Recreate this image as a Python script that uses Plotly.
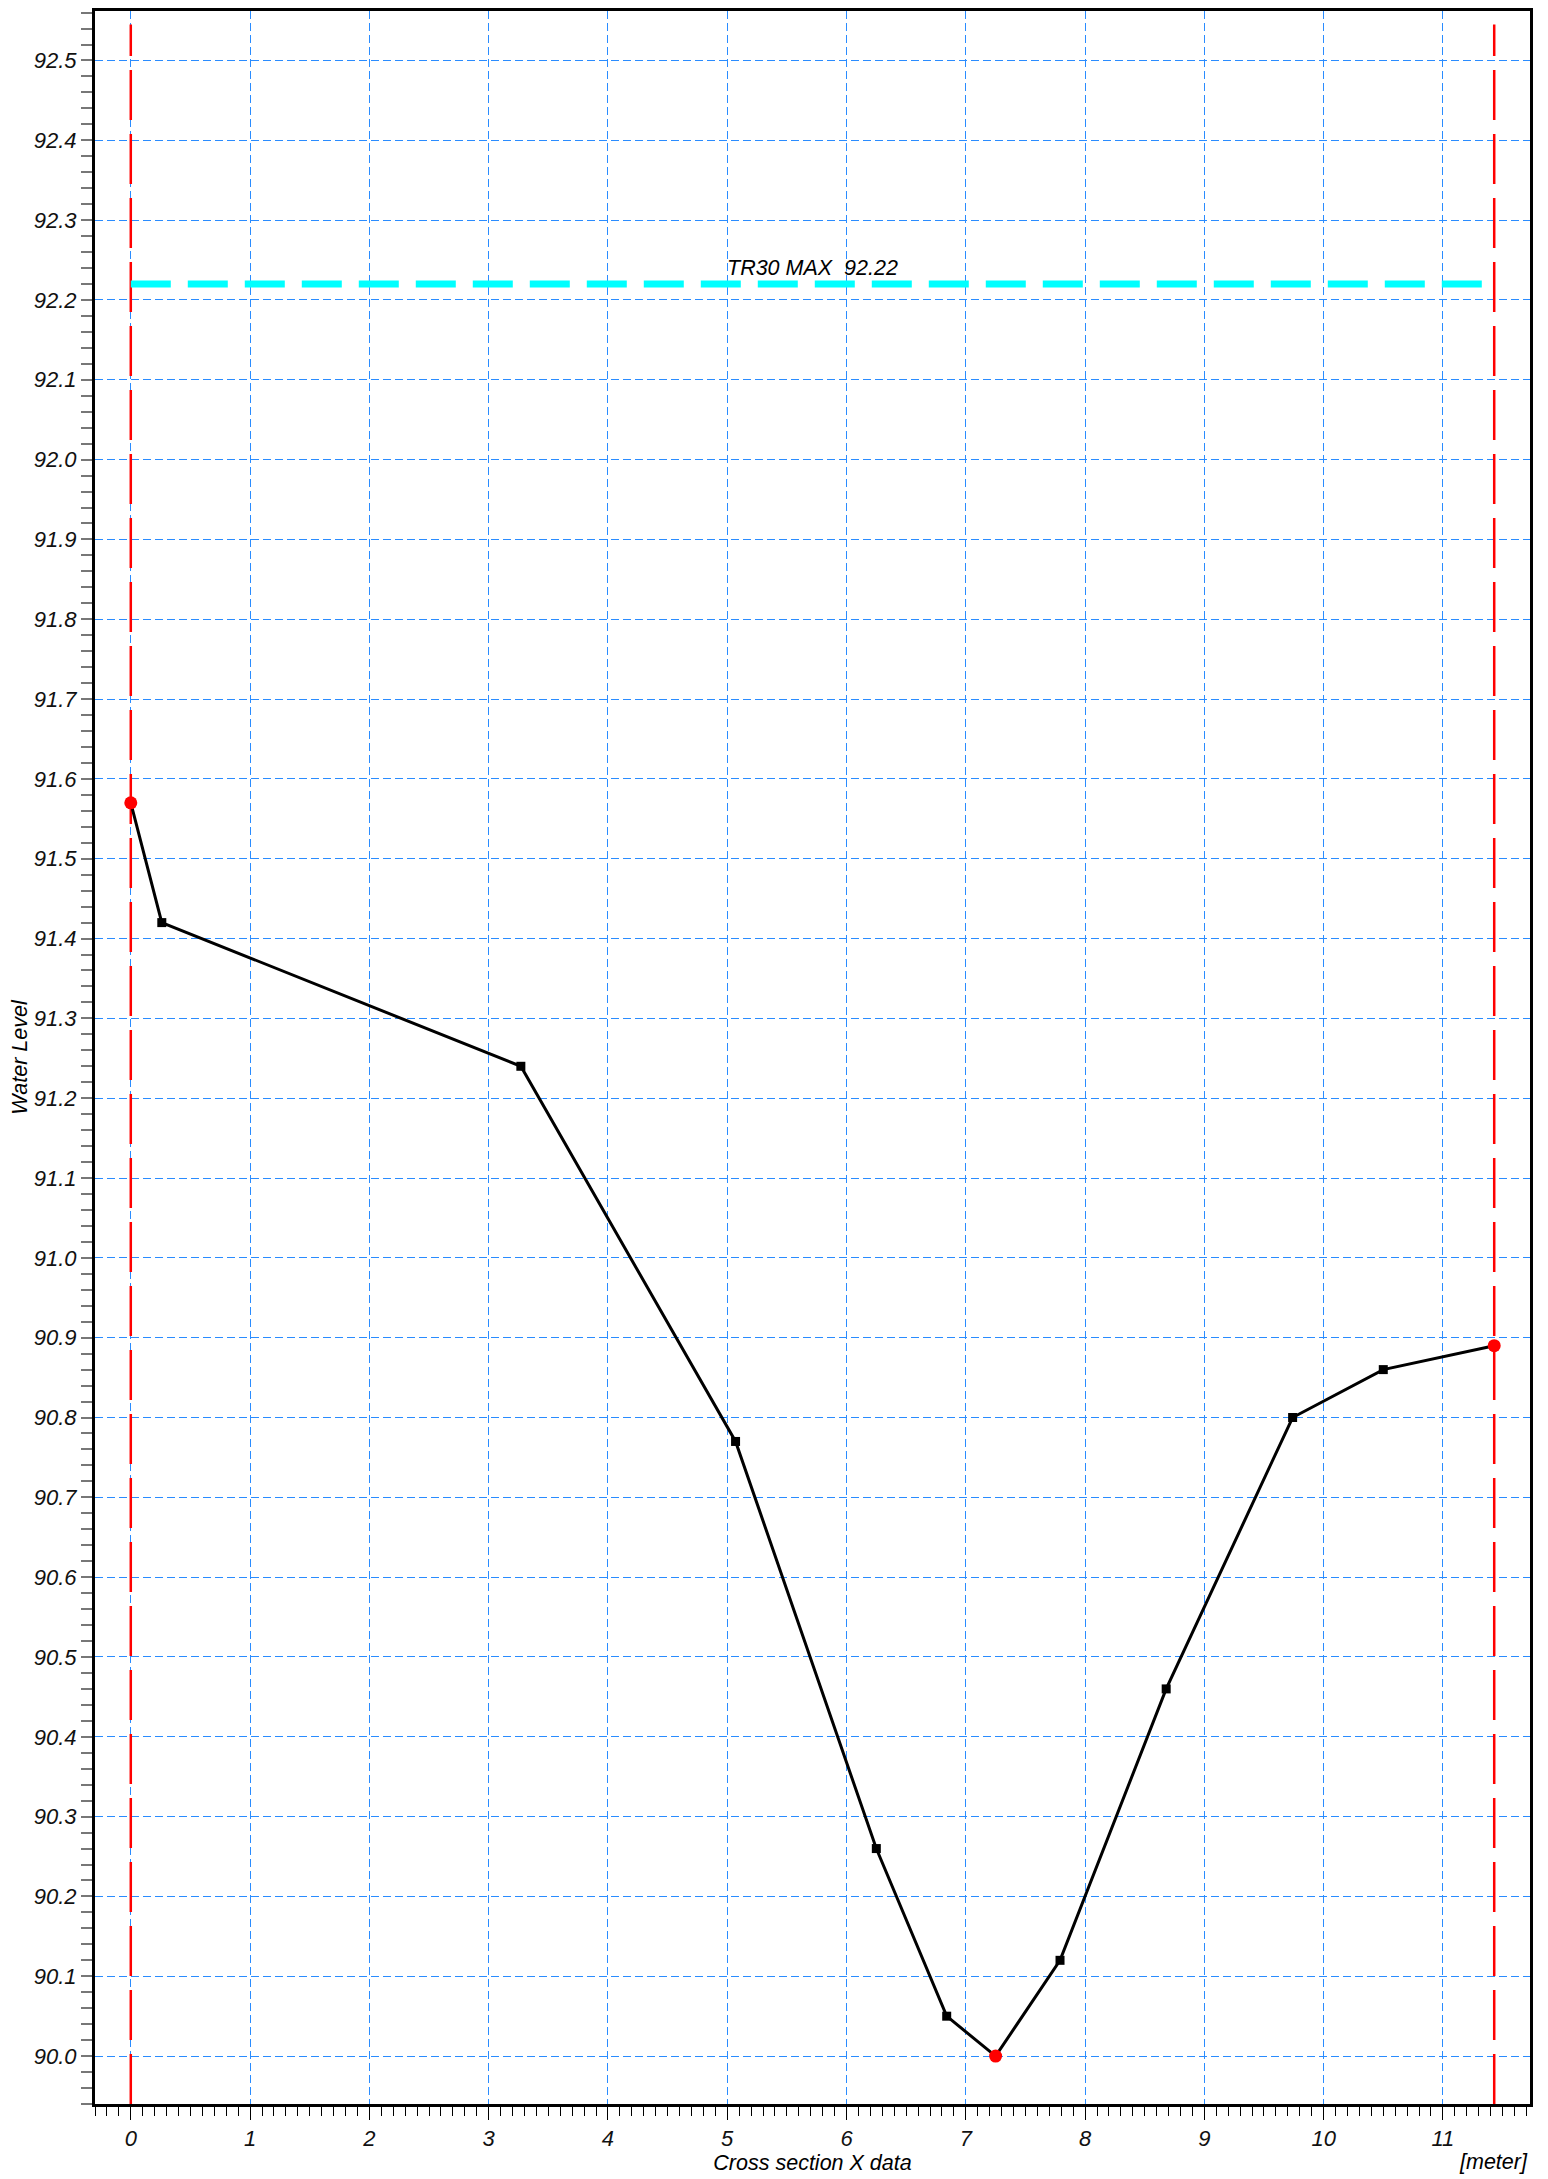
import plotly.graph_objects as go

# cross section survey points
x_data = [0.0, 0.26, 3.27, 5.07, 6.25, 6.84, 7.25, 7.79, 8.68, 9.74, 10.50, 11.43]
y_data = [91.57, 91.42, 91.24, 90.77, 90.26, 90.05, 90.00, 90.12, 90.46, 90.80, 90.86, 90.89]

# points drawn in red (banks and bottom)
red_x = [0.0, 7.25, 11.43]
red_y = [91.57, 90.00, 90.89]

# water level
tr30_level = 92.22
tr30_label = "TR30 MAX  92.22"

# bank lines
bank_left = 0.0
bank_right = 11.43
bank_top = 92.545

x_range = [-0.3, 11.73]
y_range = [89.94, 92.562]

font_name = "Liberation Sans"
grid_color = "#2a8cff"

fig = go.Figure()

# vertical red dashed lines at the banks
for bx in [bank_left, bank_right]:
    fig.add_trace(go.Scatter(
        x=[bx, bx], y=[y_range[0], bank_top],
        mode="lines",
        line=dict(color="#ff0000", width=2.5, dash="50px,14px"),
        hoverinfo="skip"))

# TR30 max water level
fig.add_trace(go.Scatter(
    x=[bank_left, bank_right], y=[tr30_level, tr30_level],
    mode="lines",
    line=dict(color="#00ffff", width=7, dash="40px,17px"),
    hoverinfo="skip"))

# section profile
fig.add_trace(go.Scatter(
    x=x_data, y=y_data,
    mode="lines+markers",
    line=dict(color="black", width=3),
    marker=dict(symbol="square", size=9, color="black")))

fig.add_trace(go.Scatter(
    x=red_x, y=red_y,
    mode="markers",
    marker=dict(symbol="circle", size=13, color="#ff0000")))

fig.add_annotation(
    x=(bank_left + bank_right) / 2, y=tr30_level,
    text=tr30_label, showarrow=False,
    yanchor="bottom", yshift=2,
    font=dict(family=font_name, size=21.5, color="black", style="italic"))

fig.add_annotation(
    x=1, y=0, xref="paper", yref="paper",
    xanchor="right", yanchor="top", yshift=-44,
    text="[meter]", showarrow=False,
    font=dict(family=font_name, size=21.5, color="black", style="italic"))

fig.update_xaxes(
    range=x_range, dtick=1, tick0=0, automargin=False,
    showgrid=True, gridcolor=grid_color, gridwidth=1, griddash="8px,4px",
    zeroline=False,
    showline=True, linecolor="black", linewidth=3, mirror=True,
    ticks="outside", ticklen=13, tickcolor="black", tickwidth=1,
    minor=dict(dtick=0.1, tick0=0, ticks="outside", ticklen=9, tickcolor="black", tickwidth=1, showgrid=False),
    tickfont=dict(family=font_name, size=22, color="#111111", style="italic"),
    title=dict(text="Cross section X data", standoff=2,
               font=dict(family=font_name, size=21.5, color="black", style="italic")))

fig.update_yaxes(
    range=y_range, dtick=0.1, tick0=90.0, tickformat=".1f", automargin=False,
    showgrid=True, gridcolor=grid_color, gridwidth=1, griddash="8px,4px",
    zeroline=False,
    showline=True, linecolor="black", linewidth=3, mirror=True,
    ticks="outside", ticklen=11, tickcolor="#777777", tickwidth=2,
    minor=dict(dtick=0.02, tick0=90.0, ticks="outside", ticklen=11, tickcolor="#777777", tickwidth=2, showgrid=False),
    tickfont=dict(family=font_name, size=22, color="#111111", style="italic"),
    title=dict(text="Water Level", standoff=2,
               font=dict(family=font_name, size=21.5, color="black", style="italic")))

# page body adds 8px offset, so the figure is 8px smaller
fig.update_layout(
    width=1540, height=2171,
    margin=dict(l=87, r=18, t=3, b=75),
    paper_bgcolor="white", plot_bgcolor="white",
    showlegend=False,
    font=dict(family=font_name))

fig.write_html("out.html")
